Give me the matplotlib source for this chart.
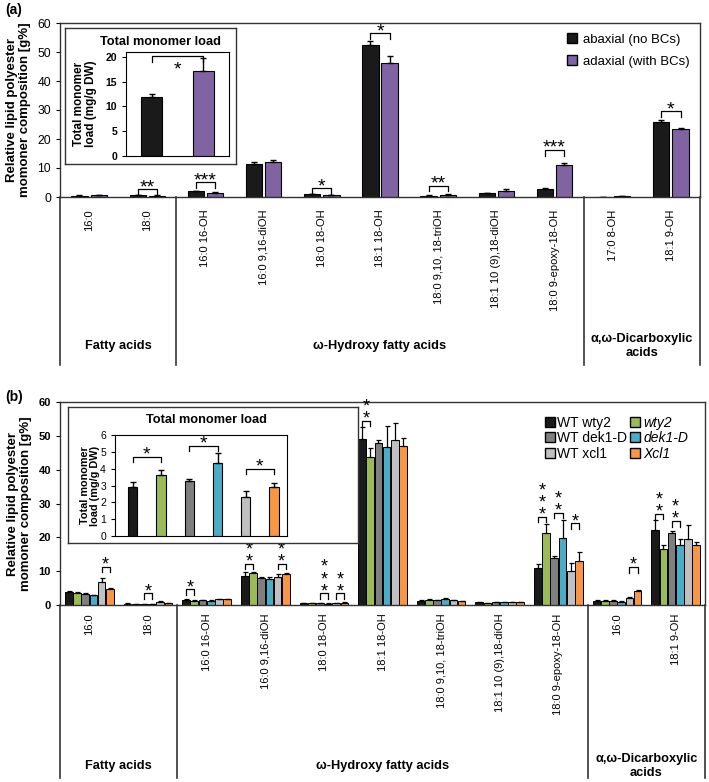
import matplotlib
matplotlib.use("Agg")
import matplotlib.pyplot as plt
import matplotlib.transforms as mtransforms
from matplotlib.lines import Line2D
import numpy as np

plt.rcParams['font.family'] = ['Liberation Sans', 'DejaVu Sans']

# ---------------- data (a) ----------------
cats_a = ['16:0', '18:0', '16:0 16-OH', '16:0 9,16-diOH', '18:0 18-OH', '18:1 18-OH',
          '18:0 9,10, 18-triOH', '18:1 10 (9),18-diOH', '18:0 9-epoxy-18-OH',
          '17:0 8-OH', '18:1 9-OH']
abaxial = [0.5, 0.6, 2.0, 11.5, 0.9, 52.5, 0.4, 1.3, 2.8, 0.1, 25.8]
abaxial_err = [0.2, 0.2, 0.1, 0.4, 0.3, 1.4, 0.2, 0.2, 0.4, 0.05, 0.9]
adaxial = [0.6, 0.5, 1.5, 12.0, 0.6, 46.1, 0.7, 2.1, 11.2, 0.3, 23.3]
adaxial_err = [0.2, 0.2, 0.3, 0.6, 0.2, 2.4, 0.3, 0.5, 0.4, 0.1, 0.5]
# (category, bar i, bar j, label, bracket height)
sig_a = [(1, 0, 1, '**', 2.8), (2, 0, 1, '***', 5.2), (4, 0, 1, '*', 3.1),
         (5, 0, 1, '*', 56.6), (6, 0, 1, '**', 3.9), (8, 0, 1, '***', 16.3),
         (10, 0, 1, '*', 29.5)]
total_a = [12.0, 17.2]
total_a_err = [0.5, 2.5]

# ---------------- data (b) ----------------
cats_b = ['16:0', '18:0', '16:0 16-OH', '16:0 9,16-diOH', '18:0 18-OH', '18:1 18-OH',
          '18:0 9,10, 18-triOH', '18:1 10 (9),18-diOH', '18:0 9-epoxy-18-OH',
          '16:0', '18:1 9-OH']
labels_b = ['WT wty2', 'wty2', 'WT dek1-D', 'dek1-D', 'WT xcl1', 'Xcl1']
colors_b = ['#1a1a1a', '#9bbb59', '#7f7f7f', '#4bacc6', '#c0c0c0', '#f79646']
wt_wty2 = [3.9, 0.4, 1.6, 8.7, 0.6, 49.1, 1.2, 0.8, 10.8, 1.3, 22.2]
wt_wty2_err = [0.2, 0.05, 0.1, 1.1, 0.1, 3.4, 0.2, 0.1, 1.3, 0.1, 2.9]
wty2 = [3.6, 0.3, 1.3, 9.5, 0.5, 43.8, 1.6, 0.6, 21.4, 1.3, 16.5]
wty2_err = [0.1, 0.05, 0.1, 0.2, 0.1, 2.5, 0.2, 0.1, 2.4, 0.1, 1.2]
wt_dek = [3.3, 0.3, 1.4, 8.1, 0.6, 47.8, 1.5, 0.8, 13.8, 1.3, 21.2]
wt_dek_err = [0.2, 0.05, 0.1, 0.3, 0.1, 1.0, 0.1, 0.1, 0.8, 0.1, 0.7]
dek = [3.0, 0.3, 1.3, 7.6, 0.4, 46.6, 1.8, 0.8, 19.9, 1.0, 17.7]
dek_err = [0.1, 0.05, 0.1, 0.6, 0.1, 6.3, 0.4, 0.1, 5.2, 0.2, 1.7]
wt_xcl = [6.9, 0.9, 1.7, 8.2, 0.6, 48.8, 1.4, 0.9, 10.0, 2.2, 19.5]
wt_xcl_err = [1.0, 0.2, 0.1, 1.0, 0.1, 5.1, 0.2, 0.1, 2.3, 0.3, 4.1]
xcl = [4.7, 0.6, 1.8, 9.3, 0.7, 47.0, 1.1, 0.9, 13.0, 4.0, 17.6]
xcl_err = [0.3, 0.1, 0.1, 0.3, 0.1, 2.3, 0.2, 0.1, 2.6, 0.5, 1.1]
sig_b = [(0, 4, 5, '*', 11.3), (1, 2, 3, '*', 3.4), (2, 0, 1, '*', 4.6),
         (3, 0, 1, '**', 12.1), (3, 4, 5, '**', 12.1),
         (4, 2, 3, '***', 3.4), (4, 4, 5, '**', 3.4), (5, 0, 1, '**', 54.5),
         (8, 0, 1, '***', 26.1), (8, 2, 3, '**', 27.3), (8, 4, 5, '*', 24.1),
         (9, 4, 5, '*', 11.2), (10, 0, 1, '**', 26.9), (10, 2, 3, '**', 24.8)]
total_b = [2.93, 3.65, 3.29, 4.32, 2.29, 2.89]
total_b_err = [0.26, 0.30, 0.10, 0.64, 0.36, 0.26]
sig_tb = [(0, 1, '*', 4.7), (2, 3, '*', 5.36), (4, 5, '*', 3.96)]

groups = [('Fatty acids', 0, 2), ('ω-Hydroxy fatty acids', 2, 9),
          ('α,ω-Dicarboxylic\nacids', 9, 11)]

W, H = 709, 782
fig = plt.figure(figsize=(W / 100, H / 100), dpi=100)


def rect(l, t, r, b):
    return [l / W, 1 - b / H, (r - l) / W, (b - t) / H]


def categories_below(ax, cats, pad, line_bottom, label_y):
    n = len(cats)
    x = np.arange(n)
    ax.set_xlim(-0.5, n - 0.5)
    ax.set_xticks(x)
    ax.set_xticklabels(cats, rotation=90, fontsize=8)
    ax.tick_params(axis='x', length=0, pad=pad)
    trans = mtransforms.blended_transform_factory(ax.transData, ax.transAxes)
    for xs in [-0.5, 1.5, 8.5, n - 0.5]:
        ax.plot([xs, xs], [0, line_bottom], color='#333333', lw=1.2,
                transform=trans, clip_on=False)
    for name, a, b in groups:
        ax.text((a + b - 1) / 2, label_y, name, transform=trans, ha='center',
                va='center', fontsize=9.2, fontweight='bold', linespacing=1.15)


def bracket(ax, x1, x2, y, leg, label, fs, off, stacked=False):
    ax.plot([x1, x1, x2, x2], [y - leg, y, y, y - leg], color='black', lw=0.9,
            clip_on=False)
    xc = (x1 + x2) / 2
    if stacked:
        # stars piled vertically, one per line
        ax.annotate('\n'.join(label), (xc, y), xytext=(0, off - 0.21 * fs),
                    textcoords='offset points', ha='center', va='bottom',
                    fontsize=fs, linespacing=0.63, annotation_clip=False)
    else:
        ax.annotate(label, (xc, y), xytext=(0, off), textcoords='offset points',
                    ha='center', va='baseline', fontsize=fs, annotation_clip=False)


# ================= panel (a) =================
ax = fig.add_axes(rect(60, 23, 700, 197))
xa = np.arange(len(cats_a))
off = 0.165
bw = 0.28
ax.bar(xa - off, abaxial, bw, color='#1a1a1a', edgecolor='black', lw=0.8,
       yerr=[np.zeros(len(xa)), abaxial_err], capsize=2.5,
       error_kw=dict(elinewidth=1.0, capthick=1.0), zorder=2)
ax.bar(xa + off, adaxial, bw, color='#8064a2', edgecolor='black', lw=0.8,
       yerr=[np.zeros(len(xa)), adaxial_err], capsize=2.5,
       error_kw=dict(elinewidth=1.0, capthick=1.0), zorder=2)
ax.set_ylim(0, 60)
ax.set_yticks(range(0, 61, 10))
ax.tick_params(axis='y', labelsize=8.7, length=3, width=0.8)
ax.set_ylabel('Relative lipid polyester\nmomoner composition [g%]',
              fontsize=9.5, fontweight='bold', linespacing=1.1)
ax.yaxis.set_label_coords(-0.045, 0.5)
for s in ax.spines.values():
    s.set_color('#333333')
    s.set_linewidth(1.0)
categories_below(ax, cats_a, 9, -0.966, -0.856)
for c, i, j, lab, h in sig_a:
    bracket(ax, c - off, c + off, h, 2.0, lab, 14, -2.3)

handles = [Line2D([], [], marker='s', ls='', markersize=7.5, markerfacecolor='#1a1a1a',
                  markeredgecolor='black'),
           Line2D([], [], marker='s', ls='', markersize=7.5, markerfacecolor='#8064a2',
                  markeredgecolor='black')]
ax.legend(handles, ['abaxial (no BCs)', 'adaxial (with BCs)'], loc='upper right',
          bbox_to_anchor=(696 / W, 1 - 27 / H), bbox_transform=fig.transFigure,
          frameon=False, fontsize=9.5, handletextpad=0.35, labelspacing=0.75,
          borderpad=0, handlelength=0.9)

# inset (a)
box = fig.add_axes(rect(65, 28, 236, 164))
box.set_xticks([])
box.set_yticks([])
for s in box.spines.values():
    s.set_linewidth(1.0)
    s.set_color('#333333')
fig.text(160 / W, 1 - 42 / H, 'Total monomer load', ha='center', va='center',
         fontsize=9.2, fontweight='bold')
ia = fig.add_axes(rect(126, 52, 229, 156))
ia.bar([0, 1], total_a, 0.4, color=['#1a1a1a', '#8064a2'], edgecolor='black', lw=0.8,
       yerr=[[0, 0], total_a_err], capsize=2.5, error_kw=dict(elinewidth=1.0))
ia.set_xlim(-0.5, 1.5)
ia.set_ylim(0, 21)
ia.set_xticks([])
ia.set_yticks(range(0, 21, 5))
ia.tick_params(axis='y', labelsize=7.5, length=3)
for t in ia.get_yticklabels():
    t.set_fontweight('bold')
ia.set_ylabel('Total monomer\nload (mg/g DW)', fontsize=8.5, fontweight='bold',
              linespacing=1.05)
ia.yaxis.set_label_coords(-0.28, 0.5)
ia.plot([0, 0, 1, 1], [19.0, 20.2, 20.2, 19.0], color='black', lw=0.9)
ia.annotate('*', (0.5, 20.2), xytext=(0, -13), textcoords='offset points',
            ha='center', va='baseline', fontsize=14)

# ================= panel (b) =================
bx = fig.add_axes(rect(60, 402, 705, 605))
xb = np.arange(len(cats_b))
series_b = [wt_wty2, wty2, wt_dek, dek, wt_xcl, xcl]
errs_b = [wt_wty2_err, wty2_err, wt_dek_err, dek_err, wt_xcl_err, xcl_err]
pitch = 0.14
bwb = 0.13
for k in range(6):
    pos = xb + (k - 2.5) * pitch
    bx.bar(pos, series_b[k], bwb, color=colors_b[k], edgecolor='black', lw=0.7,
           yerr=[np.zeros(len(xb)), errs_b[k]], capsize=1.8,
           error_kw=dict(elinewidth=0.9, capthick=0.9), zorder=2)
bx.set_ylim(0, 60)
bx.set_yticks(range(0, 61, 10))
bx.tick_params(axis='y', labelsize=8, length=3, width=0.8)
for t in bx.get_yticklabels():
    t.set_fontweight('bold')
bx.set_ylabel('Relative lipid polyester\nmomoner composition [g%]',
              fontsize=9.5, fontweight='bold', linespacing=1.1)
bx.yaxis.set_label_coords(-0.043, 0.5)
for s in bx.spines.values():
    s.set_color('#333333')
    s.set_linewidth(1.0)
categories_below(bx, cats_b, 6, -0.852, -0.793)
for c, i, j, lab, h in sig_b:
    bracket(bx, c + (i - 2.5) * pitch, c + (j - 2.5) * pitch, h, 1.6, lab, 13, -2.1,
            stacked=True)

order = [0, 2, 4, 1, 3, 5]
handles_b = [Line2D([], [], marker='s', ls='', markersize=6.5,
                    markerfacecolor=colors_b[k], markeredgecolor='black')
             for k in order]
leg = bx.legend(handles_b, [labels_b[k] for k in order], ncol=2, loc='upper left',
                bbox_to_anchor=(537 / W, 1 - 409 / H), bbox_transform=fig.transFigure,
                frameon=False, fontsize=10, handletextpad=0.15, labelspacing=0.1,
                columnspacing=0.2, borderpad=0, handlelength=0.8)
for t in leg.get_texts()[3:]:
    t.set_fontstyle('italic')

# inset (b)
box2 = fig.add_axes(rect(68, 407, 358, 543))
box2.set_xticks([])
box2.set_yticks([])
for s in box2.spines.values():
    s.set_linewidth(1.0)
    s.set_color('#333333')
fig.text(207 / W, 1 - 420 / H, 'Total monomer load', ha='center', va='center',
         fontsize=9.2, fontweight='bold')
ib = fig.add_axes(rect(115, 435, 287, 536))
ib.bar(np.arange(6), total_b, 0.33, color=colors_b, edgecolor='black', lw=0.8,
       yerr=[np.zeros(6), total_b_err], capsize=2.5, error_kw=dict(elinewidth=1.0))
ib.set_xlim(-0.63, 5.46)
ib.set_ylim(0, 6)
ib.set_xticks([])
ib.set_yticks(range(0, 7))
ib.tick_params(axis='y', labelsize=7.5, length=3)
ib.set_ylabel('Total monomer\nload (mg/g DW)', fontsize=7.8, fontweight='bold',
              linespacing=1.05)
ib.yaxis.set_label_coords(-0.087, 0.5)
for i, j, lab, h in sig_tb:
    ib.plot([i, i, j, j], [h - 0.3, h, h, h - 0.3], color='black', lw=0.9)
    ib.annotate(lab, ((i + j) / 2, h), xytext=(0, -1.6), textcoords='offset points',
                ha='center', va='baseline', fontsize=14)

fig.text(5 / W, 1 - 10 / H, '(a)', fontsize=10, fontweight='bold', va='center')
fig.text(5 / W, 1 - 397 / H, '(b)', fontsize=10, fontweight='bold', va='center')

fig.savefig('out.png', dpi=100)
